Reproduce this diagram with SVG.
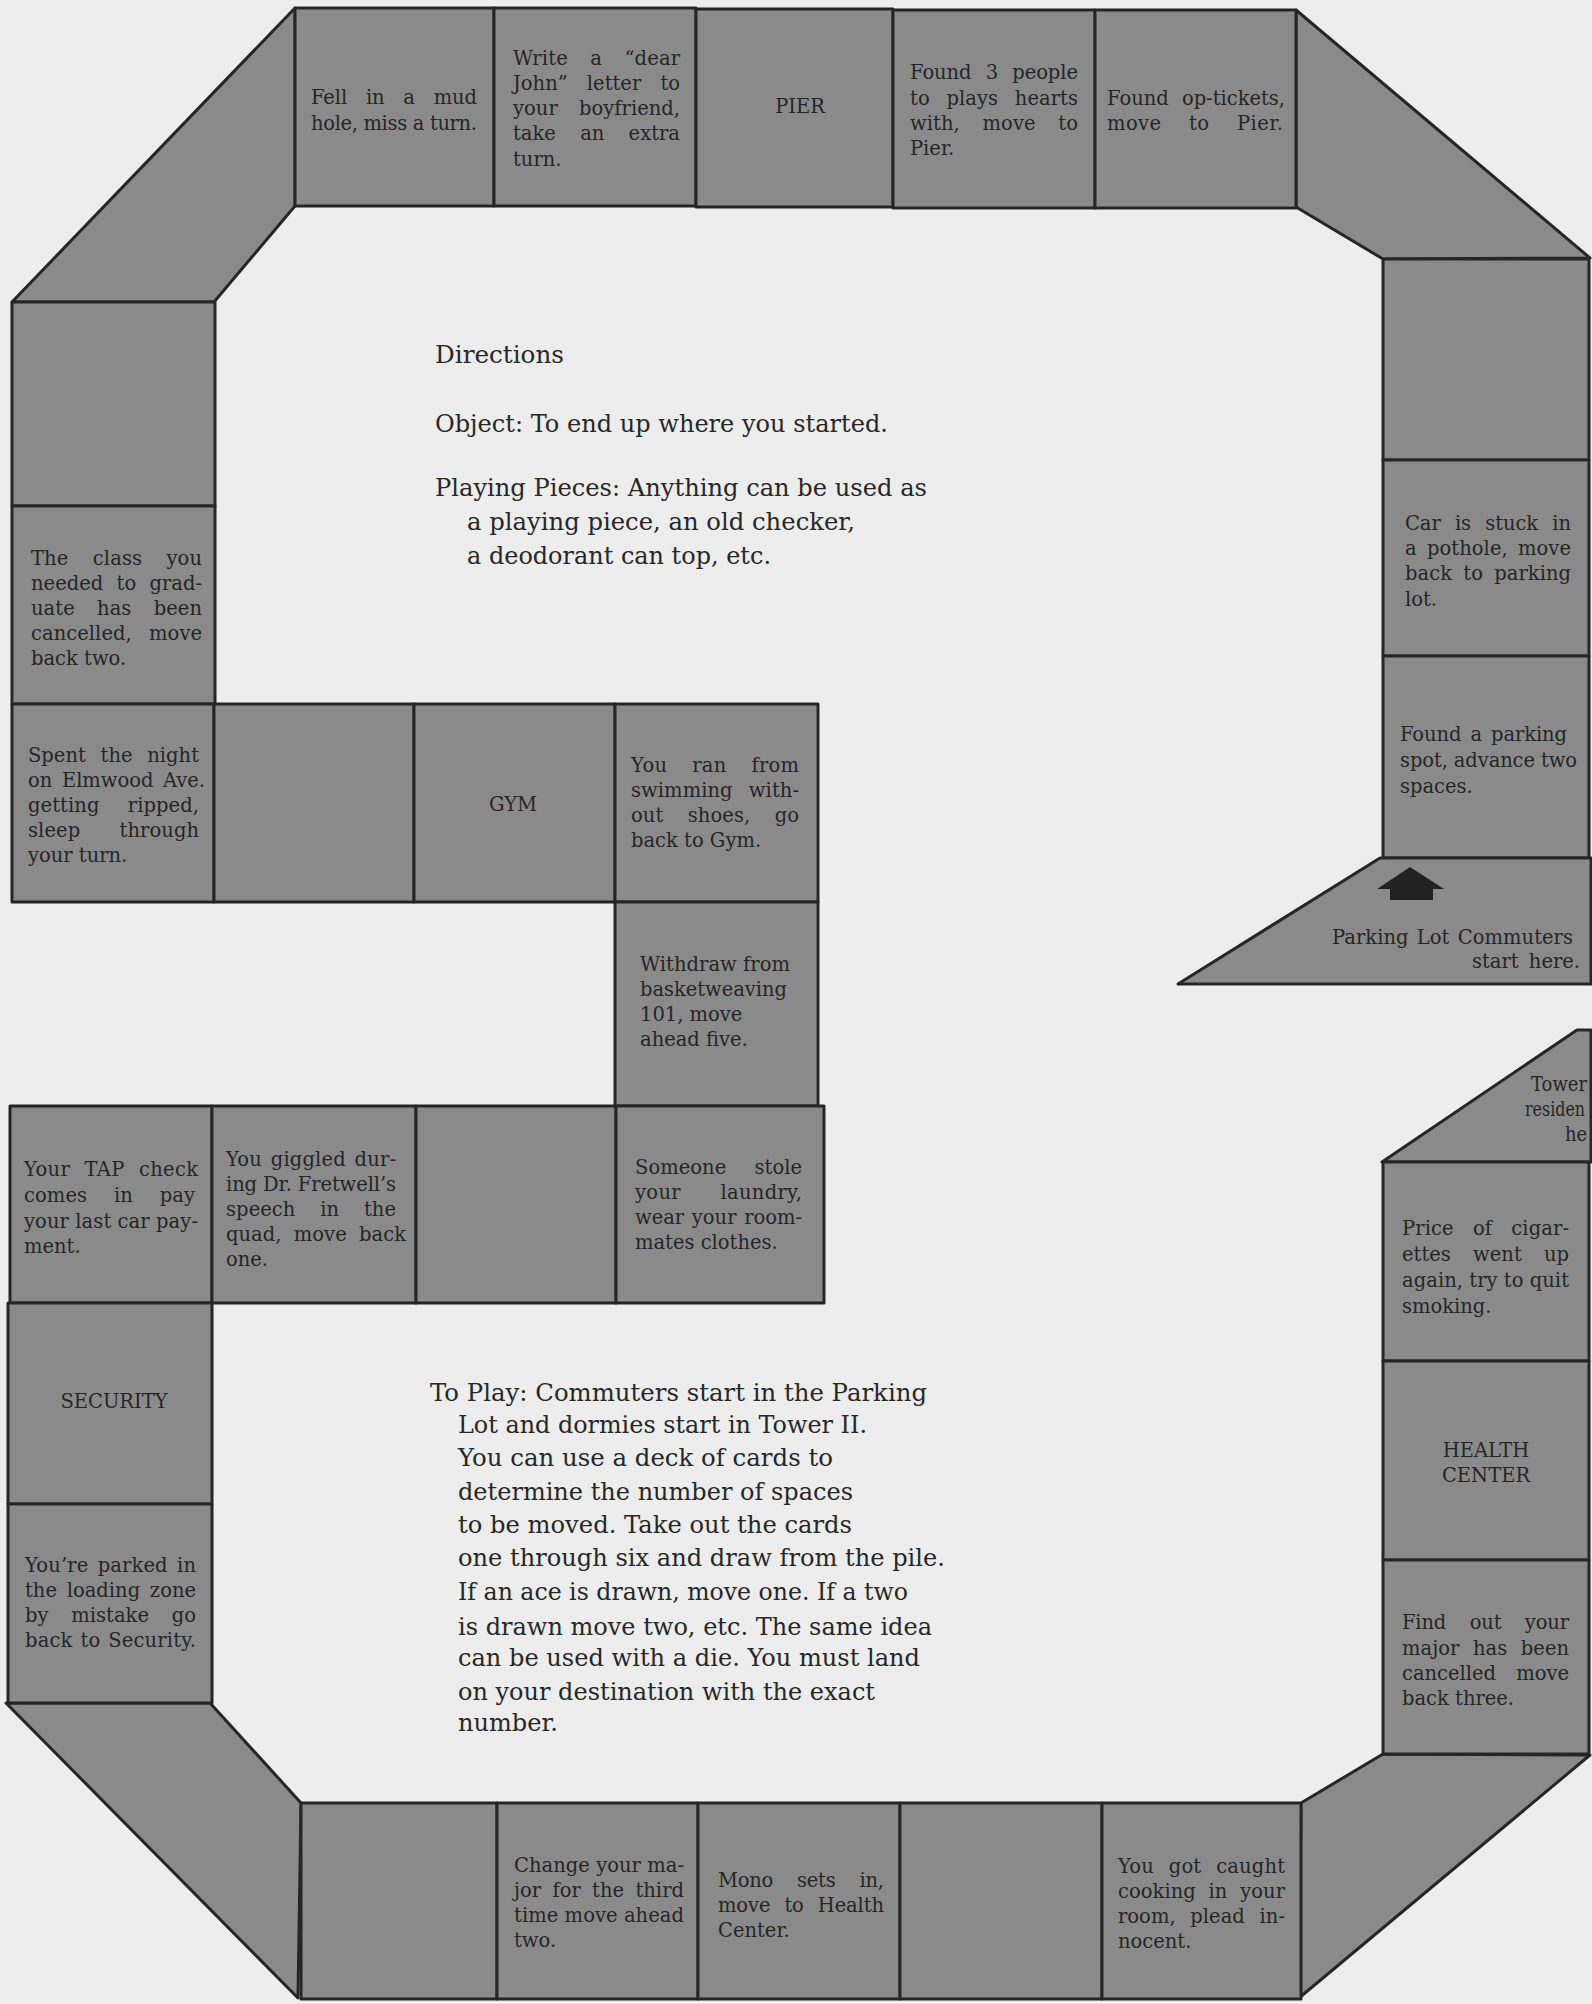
<svg xmlns="http://www.w3.org/2000/svg" width="1592" height="2004" viewBox="0 0 1592 2004">
<style>
.cell{fill:#8a8a8a;stroke:#262626;stroke-width:3;stroke-linejoin:round}
.t{font-family:"DejaVu Serif","Liberation Serif",serif;font-size:19.5px;fill:#262626}
.p{font-family:"DejaVu Serif","Liberation Serif",serif;font-size:23.5px;fill:#282828}
.c{text-anchor:middle}
.e{text-anchor:end}
</style>
<rect x="0" y="0" width="1592" height="2004" fill="#ededed"/>

<g id="connectors">
  <polygon id="corner-top-left" class="cell" points="295,8 295,206 214,302 12,302"/>
  <polygon id="corner-top-right" class="cell" points="1296,10 1590,258 1383,259 1296,207"/>
  <polygon id="corner-bottom-left" class="cell" points="6,1703 210,1703 301,1803 298,1998"/>
  <polygon id="corner-bottom-right" class="cell" points="1301,1803 1383,1754 1590,1755 1299,1998"/>
</g>

<!-- top row -->
<g id="mud-hole">
  <rect class="cell" x="295" y="8" width="199" height="198"/>
  <text class="t"><tspan x="311" y="104" word-spacing="12.7" textLength="166" lengthAdjust="spacing">Fell in a mud</tspan><tspan x="311" y="130" textLength="166" lengthAdjust="spacing">hole, miss a turn.</tspan></text>
</g>
<g id="dear-john">
  <rect class="cell" x="494" y="8" width="202" height="198"/>
  <text class="t"><tspan x="513" y="65" word-spacing="16" textLength="167" lengthAdjust="spacing">Write a “dear</tspan><tspan x="513" y="90" word-spacing="13" textLength="167" lengthAdjust="spacing">John” letter to</tspan><tspan x="513" y="115" word-spacing="15" textLength="167" lengthAdjust="spacing">your boyfriend,</tspan><tspan x="513" y="140" word-spacing="18" textLength="167" lengthAdjust="spacing">take an extra</tspan><tspan x="513" y="166">turn.</tspan></text>
</g>
<g id="pier">
  <rect class="cell" x="696" y="9" width="197" height="198"/>
  <text class="t c" x="800" y="113">PIER</text>
</g>
<g id="hearts">
  <rect class="cell" x="893" y="10" width="202" height="198"/>
  <text class="t"><tspan x="910" y="79" word-spacing="8" textLength="168" lengthAdjust="spacing">Found 3 people</tspan><tspan x="910" y="105" word-spacing="10.5" textLength="168" lengthAdjust="spacing">to plays hearts</tspan><tspan x="910" y="130" word-spacing="16.5" textLength="168" lengthAdjust="spacing">with, move to</tspan><tspan x="910" y="155">Pier.</tspan></text>
</g>
<g id="op-tickets">
  <rect class="cell" x="1095" y="10" width="201" height="198"/>
  <text class="t"><tspan x="1107" y="105" word-spacing="7" textLength="178" lengthAdjust="spacing">Found op-tickets,</tspan><tspan x="1107" y="130" word-spacing="21" textLength="176" lengthAdjust="spacing">move to Pier.</tspan></text>
</g>

<!-- right upper column -->
<g id="right-empty">
  <rect class="cell" x="1383" y="259" width="206" height="201"/>
</g>
<g id="pothole">
  <rect class="cell" x="1383" y="460" width="206" height="196"/>
  <text class="t"><tspan x="1405" y="530" word-spacing="8" textLength="166" lengthAdjust="spacing">Car is stuck in</tspan><tspan x="1405" y="555" word-spacing="4" textLength="166" lengthAdjust="spacing">a pothole, move</tspan><tspan x="1405" y="580" word-spacing="5" textLength="166" lengthAdjust="spacing">back to parking</tspan><tspan x="1405" y="606">lot.</tspan></text>
</g>
<g id="parking-spot">
  <rect class="cell" x="1383" y="656" width="206" height="202"/>
  <text class="t"><tspan x="1400" y="741" word-spacing="3" textLength="167" lengthAdjust="spacing">Found a parking</tspan><tspan x="1400" y="767" textLength="177" lengthAdjust="spacing">spot, advance two</tspan><tspan x="1400" y="793">spaces.</tspan></text>
</g>
<g id="parking-lot-start">
  <polygon class="cell" points="1380,858 1591,858 1591,984 1178,984"/>
  <polygon points="1410,867 1444,889 1433,889 1433,900 1390,900 1390,889 1377,889" fill="#222"/>
  <text class="t e"><tspan x="1573" y="944" word-spacing="2" textLength="241" lengthAdjust="spacing">Parking Lot Commuters</tspan><tspan x="1580" y="968" word-spacing="4">start here.</tspan></text>
</g>

<!-- left column upper -->
<g id="left-empty">
  <rect class="cell" x="12" y="302" width="203" height="204"/>
</g>
<g id="class-cancelled">
  <rect class="cell" x="12" y="506" width="203" height="198"/>
  <text class="t"><tspan x="31" y="565" word-spacing="18" textLength="171" lengthAdjust="spacing">The class you</tspan><tspan x="31" y="590" word-spacing="7" textLength="171" lengthAdjust="spacing">needed to grad-</tspan><tspan x="31" y="615" word-spacing="16" textLength="171" lengthAdjust="spacing">uate has been</tspan><tspan x="31" y="640" word-spacing="11" textLength="171" lengthAdjust="spacing">cancelled, move</tspan><tspan x="31" y="665">back two.</tspan></text>
</g>

<!-- middle row -->
<g id="elmwood">
  <rect class="cell" x="12" y="704" width="202" height="198"/>
  <text class="t"><tspan x="28" y="762" word-spacing="8.5" textLength="171" lengthAdjust="spacing">Spent the night</tspan><tspan x="28" y="787" word-spacing="3.5" textLength="177" lengthAdjust="spacing">on Elmwood Ave.</tspan><tspan x="28" y="812" word-spacing="22" textLength="171" lengthAdjust="spacing">getting ripped,</tspan><tspan x="28" y="837" word-spacing="33" textLength="171" lengthAdjust="spacing">sleep through</tspan><tspan x="28" y="862">your turn.</tspan></text>
</g>
<g id="middle-empty">
  <rect class="cell" x="214" y="704" width="200" height="198"/>
</g>
<g id="gym">
  <rect class="cell" x="414" y="704" width="201" height="198"/>
  <text class="t c" x="513" y="811">GYM</text>
</g>
<g id="swimming">
  <rect class="cell" x="615" y="704" width="203" height="198"/>
  <text class="t"><tspan x="631" y="772" word-spacing="18.5" textLength="168" lengthAdjust="spacing">You ran from</tspan><tspan x="631" y="797" word-spacing="10" textLength="168" lengthAdjust="spacing">swimming with-</tspan><tspan x="631" y="822" word-spacing="18" textLength="168" lengthAdjust="spacing">out shoes, go</tspan><tspan x="631" y="847">back to Gym.</tspan></text>
</g>
<g id="basketweaving">
  <rect class="cell" x="615" y="902" width="203" height="204"/>
  <text class="t"><tspan x="640" y="971" textLength="150" lengthAdjust="spacingAndGlyphs">Withdraw from</tspan><tspan x="640" y="996" textLength="147" lengthAdjust="spacingAndGlyphs">basketweaving</tspan><tspan x="640" y="1021">101, move</tspan><tspan x="640" y="1046">ahead five.</tspan></text>
</g>

<!-- third row -->
<g id="tap-check">
  <rect class="cell" x="10" y="1106" width="202" height="197"/>
  <text class="t"><tspan x="24" y="1176" word-spacing="8" textLength="174" lengthAdjust="spacing">Your TAP check</tspan><tspan x="24" y="1202" word-spacing="20.5" textLength="171" lengthAdjust="spacing">comes in pay</tspan><tspan x="24" y="1228" textLength="174" lengthAdjust="spacing">your last car pay-</tspan><tspan x="24" y="1253">ment.</tspan></text>
</g>
<g id="giggled">
  <rect class="cell" x="212" y="1106" width="204" height="197"/>
  <text class="t"><tspan x="226" y="1166" word-spacing="2.5" textLength="170" lengthAdjust="spacing">You giggled dur-</tspan><tspan x="226" y="1191" textLength="170" lengthAdjust="spacing">ing Dr. Fretwell’s</tspan><tspan x="226" y="1216" word-spacing="18.5" textLength="170" lengthAdjust="spacing">speech in the</tspan><tspan x="226" y="1241" word-spacing="6" textLength="180" lengthAdjust="spacing">quad, move back</tspan><tspan x="226" y="1266">one.</tspan></text>
</g>
<g id="row3-empty">
  <rect class="cell" x="416" y="1106" width="200" height="197"/>
</g>
<g id="laundry">
  <rect class="cell" x="616" y="1106" width="208" height="197"/>
  <text class="t"><tspan x="635" y="1174" word-spacing="22" textLength="167" lengthAdjust="spacing">Someone stole</tspan><tspan x="635" y="1199" word-spacing="33" textLength="167" lengthAdjust="spacing">your laundry,</tspan><tspan x="635" y="1224" word-spacing="1.5" textLength="167" lengthAdjust="spacing">wear your room-</tspan><tspan x="635" y="1249">mates clothes.</tspan></text>
</g>

<!-- left column lower -->
<g id="security">
  <rect class="cell" x="8" y="1303" width="204" height="201"/>
  <text class="t c" x="114" y="1408">SECURITY</text>
</g>
<g id="loading-zone">
  <rect class="cell" x="8" y="1504" width="204" height="199"/>
  <text class="t"><tspan x="25" y="1572" word-spacing="3" textLength="171" lengthAdjust="spacing">You’re parked in</tspan><tspan x="25" y="1597" word-spacing="3.5" textLength="171" lengthAdjust="spacing">the loading zone</tspan><tspan x="25" y="1622" word-spacing="16.5" textLength="171" lengthAdjust="spacing">by mistake go</tspan><tspan x="25" y="1647" word-spacing="1.5" textLength="171" lengthAdjust="spacing">back to Security.</tspan></text>
</g>

<!-- bottom row -->
<g id="bottom-empty-1">
  <rect class="cell" x="301" y="1803" width="196" height="196"/>
</g>
<g id="change-major">
  <rect class="cell" x="497" y="1803" width="201" height="196"/>
  <text class="t"><tspan x="514" y="1872" textLength="170" lengthAdjust="spacing">Change your ma-</tspan><tspan x="514" y="1897" word-spacing="5" textLength="170" lengthAdjust="spacing">jor for the third</tspan><tspan x="514" y="1922" textLength="170" lengthAdjust="spacing">time move ahead</tspan><tspan x="514" y="1947">two.</tspan></text>
</g>
<g id="mono">
  <rect class="cell" x="698" y="1803" width="202" height="196"/>
  <text class="t"><tspan x="718" y="1887" word-spacing="18" textLength="166" lengthAdjust="spacing">Mono sets in,</tspan><tspan x="718" y="1912" word-spacing="8" textLength="166" lengthAdjust="spacing">move to Health</tspan><tspan x="718" y="1937">Center.</tspan></text>
</g>
<g id="bottom-empty-2">
  <rect class="cell" x="900" y="1803" width="202" height="196"/>
</g>
<g id="cooking">
  <rect class="cell" x="1102" y="1803" width="199" height="196"/>
  <text class="t"><tspan x="1118" y="1873" word-spacing="8.5" textLength="167" lengthAdjust="spacing">You got caught</tspan><tspan x="1118" y="1898" word-spacing="6.5" textLength="167" lengthAdjust="spacing">cooking in your</tspan><tspan x="1118" y="1923" word-spacing="8.5" textLength="167" lengthAdjust="spacing">room, plead in-</tspan><tspan x="1118" y="1948">nocent.</tspan></text>
</g>

<!-- right lower column -->
<g id="tower-start">
  <polygon class="cell" points="1382,1162 1577,1030 1591,1030 1591,1162"/>
  <text class="t"><tspan x="1531" y="1091" textLength="56" lengthAdjust="spacingAndGlyphs">Tower</tspan><tspan x="1525" y="1116" textLength="60" lengthAdjust="spacingAndGlyphs">residen</tspan><tspan x="1565" y="1141" textLength="22" lengthAdjust="spacingAndGlyphs">he</tspan></text>
</g>
<g id="cigarettes">
  <rect class="cell" x="1383" y="1162" width="206" height="199"/>
  <text class="t"><tspan x="1402" y="1235" word-spacing="13" textLength="167" lengthAdjust="spacing">Price of cigar-</tspan><tspan x="1402" y="1261" word-spacing="16" textLength="167" lengthAdjust="spacing">ettes went up</tspan><tspan x="1402" y="1287" textLength="167" lengthAdjust="spacing">again, try to quit</tspan><tspan x="1402" y="1313">smoking.</tspan></text>
</g>
<g id="health-center">
  <rect class="cell" x="1383" y="1361" width="206" height="199"/>
  <text class="t c"><tspan x="1486" y="1457">HEALTH</tspan><tspan x="1486" y="1482">CENTER</tspan></text>
</g>
<g id="major-cancelled">
  <rect class="cell" x="1383" y="1560" width="206" height="194"/>
  <text class="t"><tspan x="1402" y="1629" word-spacing="17.5" textLength="167" lengthAdjust="spacing">Find out your</tspan><tspan x="1402" y="1655" word-spacing="7.5" textLength="167" lengthAdjust="spacing">major has been</tspan><tspan x="1402" y="1680" word-spacing="14" textLength="167" lengthAdjust="spacing">cancelled move</tspan><tspan x="1402" y="1705">back three.</tspan></text>
</g>

<!-- directions -->
<g id="directions">
  <text class="p"><tspan x="435" y="363" textLength="129" lengthAdjust="spacingAndGlyphs">Directions</tspan><tspan x="435" y="432" textLength="453" lengthAdjust="spacingAndGlyphs">Object: To end up where you started.</tspan><tspan x="435" y="496" textLength="492" lengthAdjust="spacingAndGlyphs">Playing Pieces: Anything can be used as</tspan><tspan x="467" y="530" textLength="388" lengthAdjust="spacingAndGlyphs">a playing piece, an old checker,</tspan><tspan x="467" y="564" textLength="304" lengthAdjust="spacingAndGlyphs">a deodorant can top, etc.</tspan></text>
</g>
<g id="to-play">
  <text class="p"><tspan x="430" y="1401" textLength="497" lengthAdjust="spacingAndGlyphs">To Play: Commuters start in the Parking</tspan><tspan x="458" y="1433" textLength="409" lengthAdjust="spacingAndGlyphs">Lot and dormies start in Tower II.</tspan><tspan x="458" y="1466" textLength="375" lengthAdjust="spacingAndGlyphs">You can use a deck of cards to</tspan><tspan x="458" y="1500" textLength="395" lengthAdjust="spacingAndGlyphs">determine the number of spaces</tspan><tspan x="458" y="1533" textLength="394" lengthAdjust="spacingAndGlyphs">to be moved. Take out the cards</tspan><tspan x="458" y="1566" textLength="487" lengthAdjust="spacingAndGlyphs">one through six and draw from the pile.</tspan><tspan x="458" y="1600" textLength="450" lengthAdjust="spacingAndGlyphs">If an ace is drawn, move one. If a two</tspan><tspan x="458" y="1635" textLength="474" lengthAdjust="spacingAndGlyphs">is drawn move two, etc. The same idea</tspan><tspan x="458" y="1666" textLength="462" lengthAdjust="spacingAndGlyphs">can be used with a die. You must land</tspan><tspan x="458" y="1700" textLength="417" lengthAdjust="spacingAndGlyphs">on your destination with the exact</tspan><tspan x="458" y="1731" textLength="100" lengthAdjust="spacingAndGlyphs">number.</tspan></text>
</g>
</svg>
